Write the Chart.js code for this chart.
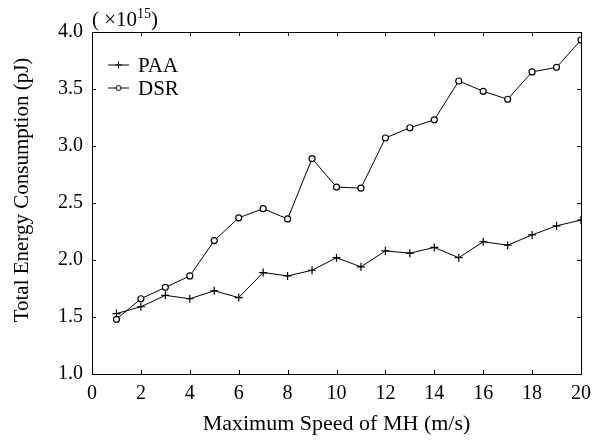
<!DOCTYPE html>
<html>
<head>
<meta charset="utf-8">
<script src="https://cdn.jsdelivr.net/npm/chart.js@4/dist/chart.umd.min.js"></script>
<style>
  html, body { margin: 0; padding: 0; background: #fff; }
  #wrap { width: 609px; height: 441px; }
</style>
</head>
<body>
<div id="wrap"><canvas id="energyChart" width="609" height="441"></canvas></div>
<script>
// values (units of 1e15 pJ)
const speeds = [1, 2, 3, 4, 5, 6, 7, 8, 9, 10, 11, 12, 13, 14, 15, 16, 17, 18, 19, 20];
const paaEnergy = [1.53, 1.59, 1.69, 1.66, 1.73, 1.67, 1.89, 1.86, 1.91, 2.02,
                   1.94, 2.08, 2.06, 2.11, 2.02, 2.16, 2.13, 2.22, 2.30, 2.35];
const dsrEnergy = [1.48, 1.66, 1.76, 1.86, 2.17, 2.37, 2.45, 2.36, 2.89, 2.64,
                   2.63, 3.07, 3.16, 3.23, 3.57, 3.48, 3.41, 3.65, 3.69, 3.93];
const seriesNames = ["PAA", "DSR"];
const xTitle = "Maximum Speed of MH (m/s)";
const yTitle = "Total Energy Consumption (pJ)";

const FONT = "'Liberation Serif', 'Times New Roman', serif";

const toPoints = (ys) => speeds.map((s, i) => ({ x: s, y: ys[i] }));

// inward ticks on all four sides + closing frame
const frameTicks = {
  id: "frameTicks",
  afterDatasetsDraw(chart) {
    const { ctx, chartArea: a, scales } = chart;
    ctx.save();
    ctx.strokeStyle = "#000";
    ctx.lineWidth = 1;
    ctx.beginPath();
    ctx.moveTo(a.left, a.top + 0.5);
    ctx.lineTo(a.right + 0.5, a.top + 0.5);
    ctx.lineTo(a.right + 0.5, a.bottom);
    scales.x.ticks.forEach((t) => {
      const px = Math.round(scales.x.getPixelForValue(t.value)) + 0.5;
      ctx.moveTo(px, a.bottom);
      ctx.lineTo(px, a.bottom - 4);
      ctx.moveTo(px, a.top);
      ctx.lineTo(px, a.top + 4);
    });
    scales.y.ticks.forEach((t) => {
      const py = Math.round(scales.y.getPixelForValue(t.value)) + 0.5;
      ctx.moveTo(a.left, py);
      ctx.lineTo(a.left + 4, py);
      ctx.moveTo(a.right, py);
      ctx.lineTo(a.right - 4, py);
    });
    ctx.stroke();
    ctx.restore();
  },
};

// legend drawn inside the plot, line with marker in the middle
const innerLegend = {
  id: "innerLegend",
  afterDraw(chart) {
    const { ctx, chartArea: a } = chart;
    ctx.save();
    ctx.font = "21px " + FONT;
    ctx.textBaseline = "middle";
    chart.data.datasets.forEach((ds, i) => {
      const y = a.top + 33 + i * 23;
      const x0 = a.left + 16;
      ctx.strokeStyle = "#000";
      ctx.lineWidth = 1;
      ctx.beginPath();
      ctx.moveTo(x0, y);
      ctx.lineTo(x0 + 21, y);
      ctx.stroke();
      ctx.fillStyle = ds.pointBackgroundColor;
      Chart.helpers.drawPoint(ctx, {
        pointStyle: ds.pointStyle,
        radius: ds.pointRadius - 0.5,
        borderWidth: ds.pointBorderWidth,
        rotation: 0,
      }, x0 + 10.5, y);
      ctx.fillStyle = "#000";
      ctx.fillText(ds.label, x0 + 30, y + 1);
    });
    ctx.restore();
  },
};

// "( ×10^15)" multiplier above the y axis, and the y title
const annotations = {
  id: "annotations",
  afterDraw(chart) {
    const { ctx, chartArea: a } = chart;
    ctx.save();
    ctx.fillStyle = "#000";
    ctx.textBaseline = "alphabetic";
    ctx.font = "21px " + FONT;
    let x = a.left;
    const base = a.top - 6;
    ctx.fillText("( \u00d710", x, base);
    x += ctx.measureText("( \u00d710").width;
    ctx.font = "14px " + FONT;
    ctx.fillText("15", x, base - 8);
    x += ctx.measureText("15").width;
    ctx.font = "21px " + FONT;
    ctx.fillText(")", x, base);

    ctx.translate(22, (a.top + a.bottom) / 2 - 13);
    ctx.rotate(-Math.PI / 2);
    ctx.textAlign = "center";
    ctx.textBaseline = "middle";
    ctx.font = "21px " + FONT;
    ctx.fillText(yTitle, 0, 0);
    ctx.restore();
  },
};

new Chart(document.getElementById("energyChart"), {
  type: "line",
  data: {
    datasets: [
      {
        label: seriesNames[0],
        data: toPoints(paaEnergy),
        borderColor: "#000",
        borderWidth: 1,
        pointStyle: "cross",
        pointRadius: 4,
        pointBorderWidth: 1.2,
        pointBorderColor: "#000",
        pointBackgroundColor: "#000",
        tension: 0,
      },
      {
        label: seriesNames[1],
        data: toPoints(dsrEnergy),
        borderColor: "#000",
        borderWidth: 1,
        pointStyle: "circle",
        pointRadius: 3,
        pointBorderWidth: 1.2,
        pointBorderColor: "#000",
        pointBackgroundColor: "#fff",
        tension: 0,
      },
    ],
  },
  options: {
    responsive: false,
    animation: false,
    devicePixelRatio: 1,
    layout: { padding: { top: 32, right: 28, left: 0, bottom: 0 } },
    plugins: {
      legend: { display: false },
      tooltip: { enabled: false },
    },
    scales: {
      x: {
        type: "linear",
        min: 0,
        max: 20,
        ticks: {
          stepSize: 2,
          color: "#000",
          font: { family: FONT, size: 20 },
          padding: 8,
          maxRotation: 0,
        },
        grid: { display: false, drawTicks: false },
        border: { color: "#000", width: 1 },
        title: {
          display: true,
          text: xTitle,
          color: "#000",
          font: { family: FONT, size: 22 },
          padding: { top: 0, bottom: 4 },
        },
        afterFit: (scale) => { scale.height = 67; },
      },
      y: {
        min: 1,
        max: 4,
        ticks: {
          stepSize: 0.5,
          color: "#000",
          font: { family: FONT, size: 20 },
          padding: 9,
          callback: (v) => v.toFixed(1),
        },
        grid: { display: false, drawTicks: false },
        border: { color: "#000", width: 1 },
        title: { display: false },
        afterFit: (scale) => { scale.width = 92; },
      },
    },
  },
  plugins: [frameTicks, innerLegend, annotations],
});
</script>
</body>
</html>
